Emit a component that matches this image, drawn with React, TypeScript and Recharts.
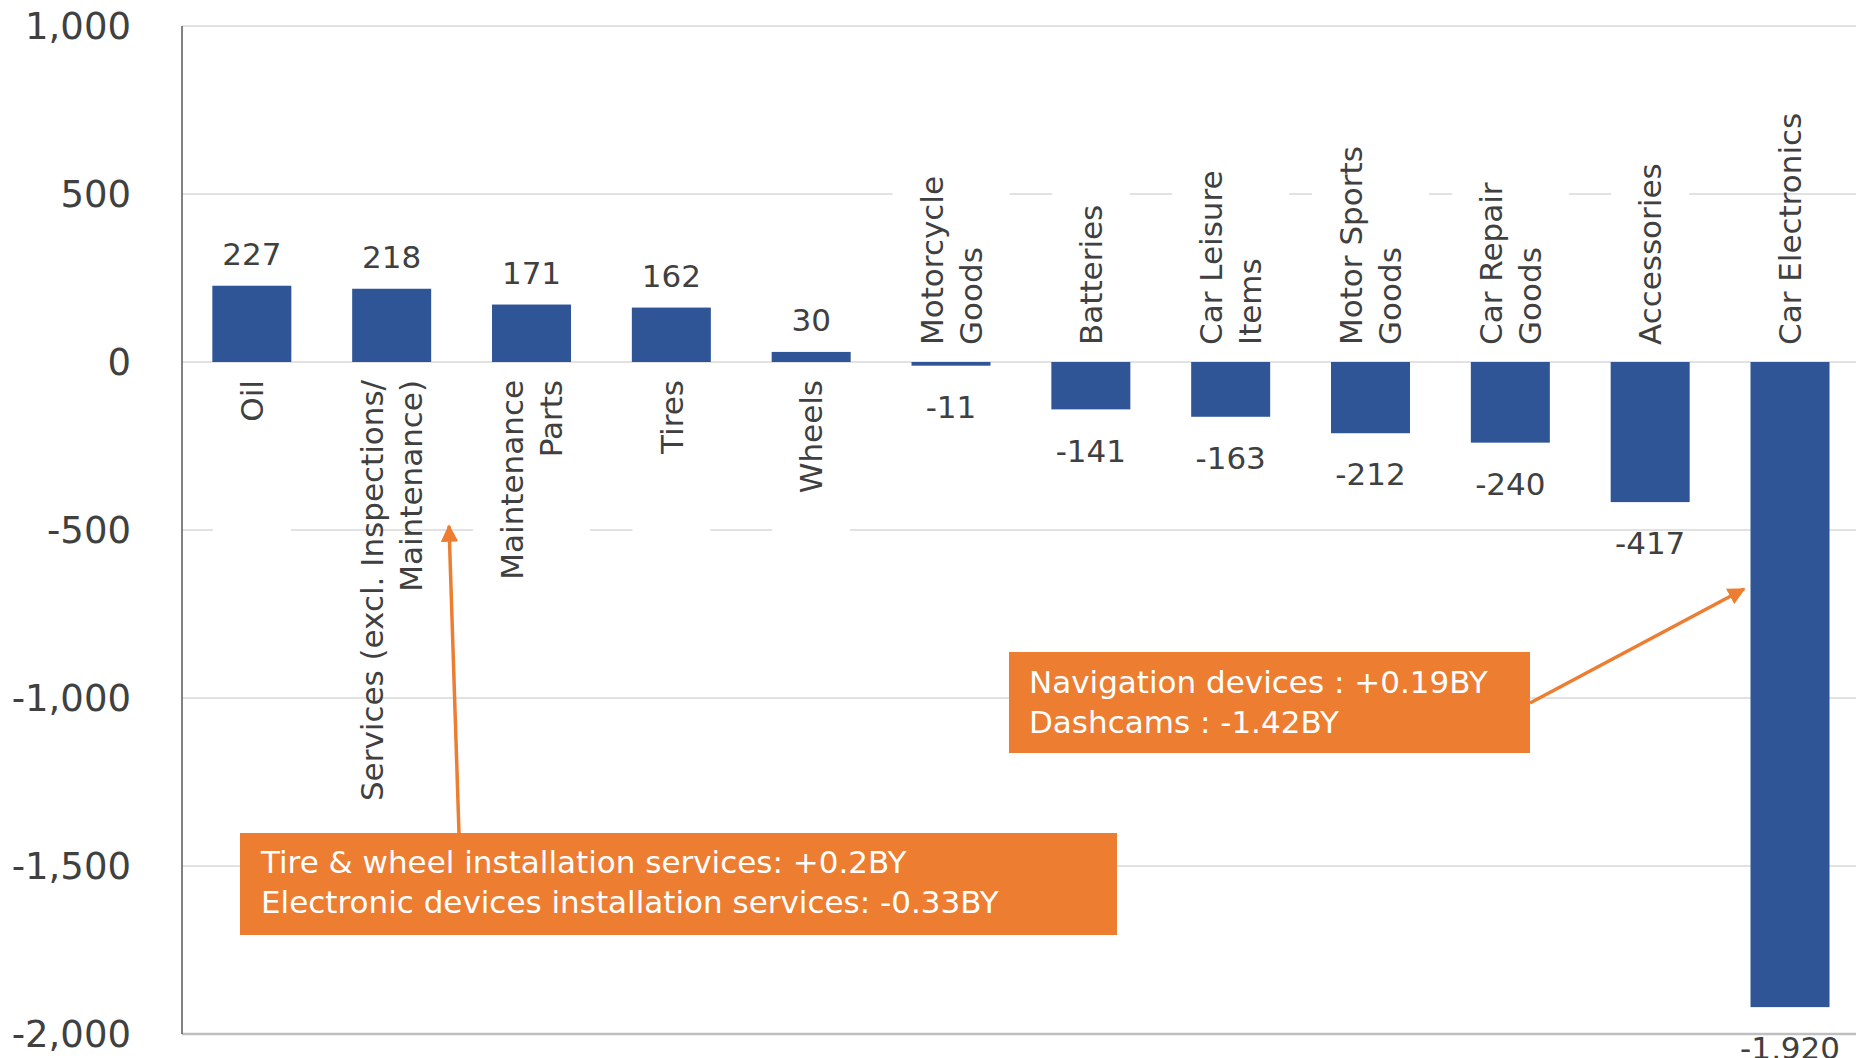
import React from 'react';
import { BarChart, Bar, XAxis, YAxis, CartesianGrid, ReferenceLine } from 'recharts';

const categories = [
  'Oil',
  'Services (excl. Inspections/\nMaintenance)',
  'Maintenance\nParts',
  'Tires',
  'Wheels',
  'Motorcycle\nGoods',
  'Batteries',
  'Car Leisure\nItems',
  'Motor Sports\nGoods',
  'Car Repair\nGoods',
  'Accessories',
  'Car Electronics',
];
const values = [227, 218, 171, 162, 30, -11, -141, -163, -212, -240, -417, -1920];
const yTicks = [1000, 500, 0, -500, -1000, -1500, -2000];
const noteServices = ['Tire & wheel installation services: +0.2BY', 'Electronic devices installation services: -0.33BY'];
const noteElectronics = ['Navigation devices : +0.19BY', 'Dashcams : -1.42BY'];

const data = categories.map((c, i) => ({ category: c, value: values[i] }));

const FONT = '"DejaVu Sans", Verdana, sans-serif';
const TEXT = '#404040';
const BAR = '#2F5597';
const ORANGE = '#ED7D31';

const fmt = (v: number) => v.toLocaleString('en-US');

const BarShape = (props: any) => {
  const { x, y, width, height, index } = props;
  const v: number = props.payload?.value ?? values[index];
  const cat: string = props.payload?.category ?? categories[index];
  const top = Math.min(y, y + height);
  const bottom = Math.max(y, y + height);
  const h = bottom - top;
  const cx = x + width / 2;
  const pos = v >= 0;
  const zeroY = pos ? bottom : top;
  const lines = cat.split('\n');
  const longest = Math.max(...lines.map((l) => l.length));
  const lineGap = 39;
  const boxW = lines.length * lineGap + 39;
  const boxH = 200;
  const labelY = pos ? top - 32 : bottom + 41;
  const anchorY = pos ? zeroY + 18 : zeroY - 17;
  return (
    <g>
      {longest <= 13 && (
        <rect
          x={cx - boxW / 2}
          y={pos ? zeroY + 6 : zeroY - 6 - boxH}
          width={boxW}
          height={boxH}
          fill="#ffffff"
        />
      )}
      <rect x={x} y={top} width={width} height={h} fill={BAR} />
      <text x={cx} y={labelY} dy="0.36em" textAnchor="middle" fontSize={31} fill={TEXT} fontFamily={FONT}>
        {fmt(v)}
      </text>
      <text
        transform={`translate(${cx}, ${anchorY}) rotate(-90)`}
        textAnchor={pos ? 'end' : 'start'}
        fontSize={31}
        fill={TEXT}
        fontFamily={FONT}
      >
        {lines.map((l, i) => (
          <tspan key={i} x={0} y={(i - (lines.length - 1) / 2) * lineGap} dy="0.36em">
            {l}
          </tspan>
        ))}
      </text>
    </g>
  );
};

const YTick = (props: any) => {
  const { y, payload } = props;
  return (
    <text x={131} y={y} dy="0.36em" textAnchor="end" fontSize={37} fill={TEXT} fontFamily={FONT}>
      {fmt(payload.value)}
    </text>
  );
};

const Note = ({ x, y, w, h, lines, tx, ty }: any) => (
  <g>
    <rect x={x} y={y} width={w} height={h} fill={ORANGE} />
    {lines.map((l: string, i: number) => (
      <text key={i} x={tx} y={ty + i * 40} dy="0.36em" fontSize={31} fill="#ffffff" fontFamily={FONT}>
        {l}
      </text>
    ))}
  </g>
);

export default function App() {
  return (
    <div style={{ position: 'absolute', left: 0, top: 0, width: 1856, height: 1058, overflow: 'hidden', background: '#fff' }}>
      <BarChart
        width={1860}
        height={1058}
        data={data}
        margin={{ top: 26, right: 0, bottom: 24, left: 0 }}
        barCategoryGap="21.7%"
      >
        <CartesianGrid vertical={false} stroke="#D9D9D9" strokeWidth={1.5} />
        <XAxis dataKey="category" hide />
        <YAxis
          width={182}
          domain={[-2000, 1000]}
          ticks={yTicks}
          interval={0}
          tick={YTick}
          tickLine={false}
          axisLine={{ stroke: '#595959', strokeWidth: 1.5 }}
        />
        <ReferenceLine y={-2000} stroke="#BFBFBF" strokeWidth={2.5} />
        <Bar dataKey="value" isAnimationActive={false} shape={BarShape} />
      </BarChart>
      <svg width={1856} height={1058} style={{ position: 'absolute', left: 0, top: 0, pointerEvents: 'none' }}>
        <defs>
          <marker id="arr" viewBox="0 0 10 10" refX="9" refY="5" markerWidth="5" markerHeight="5" orient="auto" markerUnits="strokeWidth">
            <path d="M0,0 L10,5 L0,10 z" fill={ORANGE} />
          </marker>
        </defs>
        <line x1={459} y1={833} x2={449} y2={526} stroke={ORANGE} strokeWidth={3.5} markerEnd="url(#arr)" />
        <line x1={1530} y1={703} x2={1744} y2={589} stroke={ORANGE} strokeWidth={3.5} markerEnd="url(#arr)" />
        <Note x={240} y={833} w={877} h={102} lines={noteServices} tx={261} ty={862} />
        <Note x={1009} y={652} w={521} h={101} lines={noteElectronics} tx={1029} ty={682} />
      </svg>
    </div>
  );
}
